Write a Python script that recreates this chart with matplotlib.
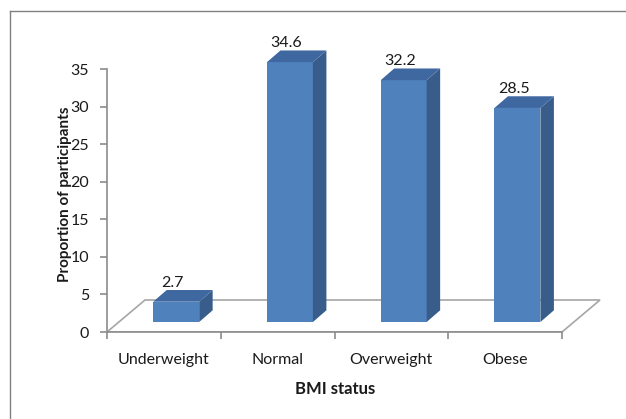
import numpy as np
import matplotlib
matplotlib.use("Agg")
import matplotlib.pyplot as plt
from matplotlib.patches import Polygon
from matplotlib.lines import Line2D

# data
categories = ["Underweight", "Normal", "Overweight", "Obese"]
values = [2.7, 34.6, 32.2, 28.5]
value_labels = ["2.7", "34.6", "32.2", "28.5"]
y_ticks = [0, 5, 10, 15, 20, 25, 30, 35]

plt.rcParams['font.family'] = ['Lato', 'DejaVu Sans']

front_col = "#4f81bd"
side_col = "#385d8a"
top_col = "#3f68a0"
axis_col = "#8c8c8c"
text_col = "#1a1a1a"

fig = plt.figure(figsize=(6.26, 4.19), dpi=100)

# outer frame, only top and left edges are inside the picture
fx, fy = 9.5 / 626, 1 - 11.5 / 419
fig.lines.append(Line2D([fx, 1.0], [fy, fy], transform=fig.transFigure,
                        color="#808080", linewidth=1.0))
fig.lines.append(Line2D([fx, fx], [0.0, fy], transform=fig.transFigure,
                        color="#808080", linewidth=1.0))

# axes placed so that x=-0.5 sits at px 107 and y=0 at px 332
px_x = 113.75
px_y = 7.51
left, bottom = 107, 332
ax_w, ax_h = 626 - left - 6, bottom - 20
ax = fig.add_axes([left / 626, (419 - bottom) / 419, ax_w / 626, ax_h / 419])
ax.set_xlim(-0.5, -0.5 + ax_w / px_x)
ax.set_ylim(0, ax_h / px_y)
ax.patch.set_visible(False)

# 3d-ish offsets in data units
floor_dx, floor_dy = 38 / px_x, 32 / px_y
bar_dx, bar_dy = 12.3 / px_x, 10 / px_y
side_dx, side_dy = 13.5 / px_x, 11.7 / px_y
bar_w = 0.404

n = len(categories)
x = np.arange(n)

# floor
floor = Polygon([(-0.5, 0), (n - 0.5, 0), (n - 0.5 + floor_dx, floor_dy),
                 (-0.5 + floor_dx, floor_dy)], closed=True,
                facecolor="white", edgecolor="#a6a6a6", linewidth=1.2, zorder=1)
ax.add_patch(floor)

# bars: front face with ax.bar, side and top as polygons
xc = x + bar_dx
ax.bar(xc, values, width=bar_w, bottom=bar_dy, color=front_col,
       linewidth=0, zorder=3)
for xi, v in zip(xc, values):
    x0, x1 = xi - bar_w / 2, xi + bar_w / 2
    y0, y1 = bar_dy, bar_dy + v
    side = Polygon([(x1, y0), (x1 + side_dx, y0 + side_dy),
                    (x1 + side_dx, y1 + side_dy), (x1, y1)],
                   closed=True, facecolor=side_col, edgecolor="none", zorder=3)
    top = Polygon([(x0, y1), (x1, y1), (x1 + side_dx, y1 + side_dy),
                   (x0 + side_dx, y1 + side_dy)],
                  closed=True, facecolor=top_col, edgecolor="none", zorder=3)
    ax.add_patch(side)
    ax.add_patch(top)

for xi, v, lab in zip(xc, values, value_labels):
    ax.text(xi - 0.03, v + bar_dy + side_dy + 0.45, lab, ha="center",
            va="baseline", fontsize=11.5, color=text_col, zorder=4)

# axes lines and ticks
for s in ["top", "right"]:
    ax.spines[s].set_visible(False)
ax.spines["left"].set_bounds(0, 35)
ax.spines["bottom"].set_bounds(-0.5, n - 0.5)
for s in ["left", "bottom"]:
    ax.spines[s].set_color(axis_col)
    ax.spines[s].set_linewidth(1.2)
    ax.spines[s].set_zorder(2)

ax.set_yticks(y_ticks)
ax.set_xticks(x)
ax.set_xticklabels(categories)
ax.set_xticks(np.arange(n + 1) - 0.5, minor=True)
ax.tick_params(axis="y", direction="out", length=5, width=1.2, color=axis_col,
               labelsize=11.5, labelcolor=text_col, pad=8)
ax.tick_params(axis="x", which="major", length=0, labelsize=11.5,
               labelcolor=text_col, pad=15)
ax.tick_params(axis="x", which="minor", direction="out", length=5, width=1.2,
               color=axis_col)

ax.set_xlabel("BMI status", fontsize=12, fontweight="bold", color=text_col)
ax.set_ylabel("Proportion of participants", fontsize=11, fontweight="bold",
              color=text_col)
# xlabel: top edge at px 381, centre x 335; ylabel: right edge px 72, centre y 194
ax.xaxis.set_label_coords((335 - left) / ax_w, -(381 - bottom) / ax_h)
ax.yaxis.set_label_coords(-(left - 72) / ax_w, (bottom - 194) / ax_h)

fig.savefig("out.png", dpi=100)
